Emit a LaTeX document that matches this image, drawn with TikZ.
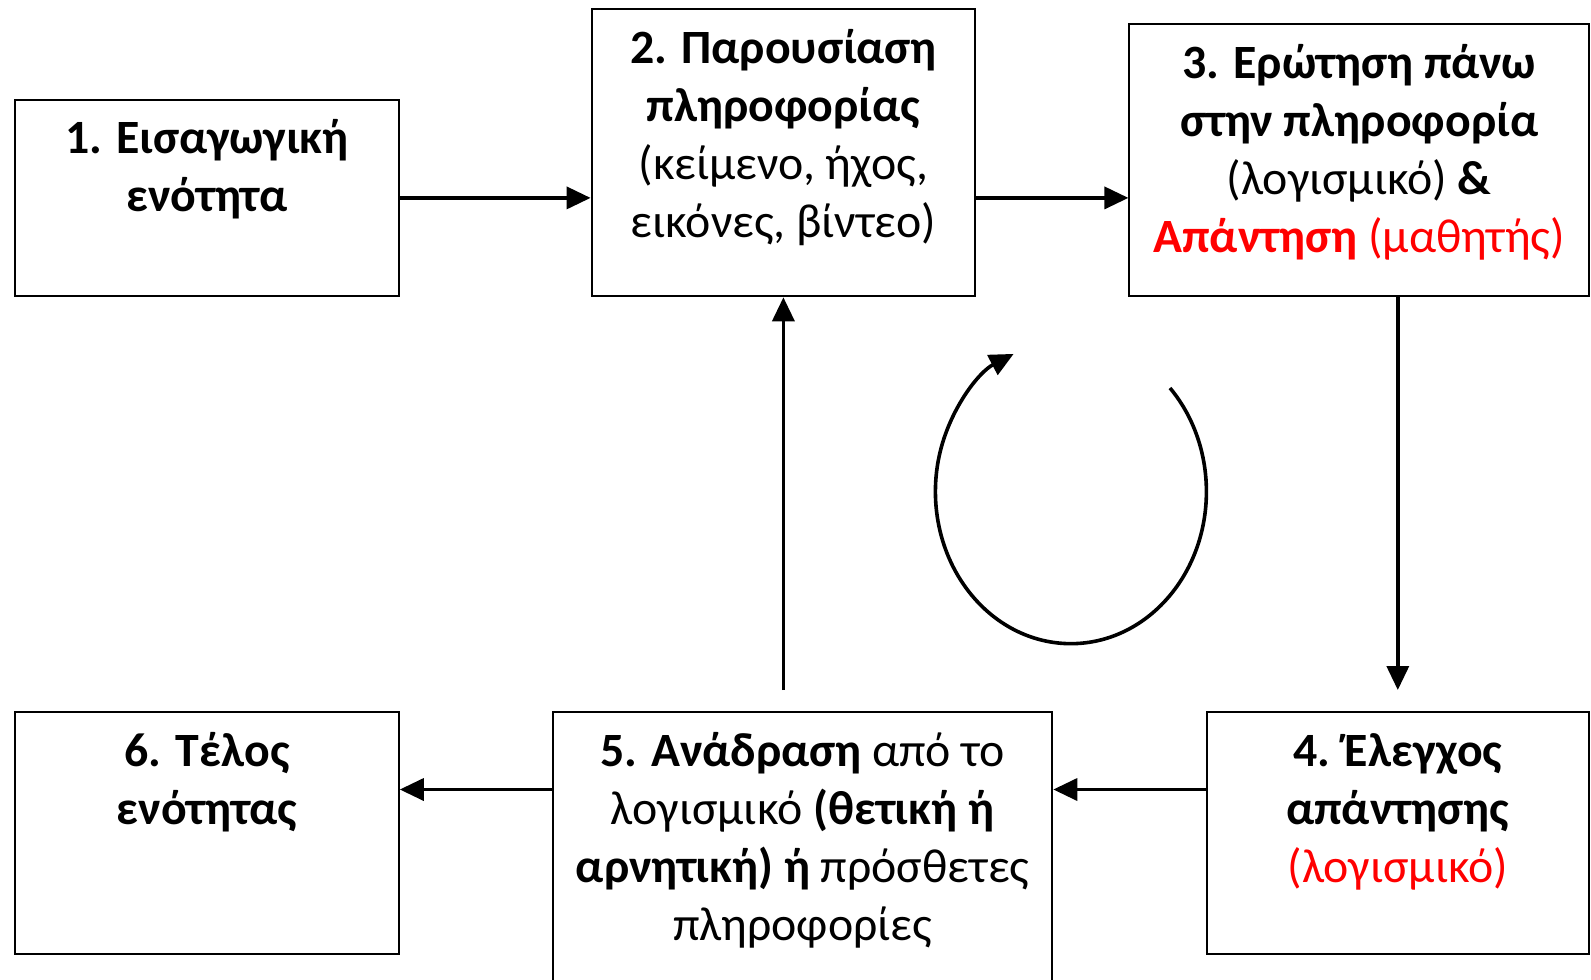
\documentclass[tikz,border=0pt]{standalone}
\usepackage{fontspec}
\setmainfont{Carlito}
\usetikzlibrary{arrows.meta}
\tikzset{
  stage/.style={draw, line width=1pt, inner sep=0pt, font=\fontsize{23.9}{29}\selectfont},
  flow/.style={line width=1.8pt, -{Triangle[length=12pt,width=11pt]}}
}
\newcommand{\stagetext}[3]{\parbox[t][#2][t]{#1}{\centering\vspace*{6.8pt}\strut#3\par}}
\begin{document}
\begin{tikzpicture}[x=0.5pt,y=-0.5pt]
 \useasboundingbox (0,0) rectangle (1591,980);
 \clip (0,0) rectangle (1591,980);
 % upper row
 \node[stage] (intro) at (207,197.9) {\stagetext{191.8pt}{98.4pt}{\textbf{1. Εισαγωγική}\\ \textbf{ενότητα}}};
 \node[stage] (present) at (783.4,152.7) {\stagetext{191.8pt}{143.6pt}{\textbf{2. Παρουσίαση}\\ \textbf{πληροφορίας}\\ (κείμενο, ήχος,\\ εικόνες, βίντεο)}};
 \node[stage] (question) at (1359.2,160.4) {\stagetext{229.8pt}{136pt}{\textbf{3. Ερώτηση πάνω}\\ \textbf{στην πληροφορία}\\ (λογισμικό) \textbf{\&}\\ \textcolor{red}{\textbf{Απάντηση} (μαθητής)}}};
 % lower row
 \node[stage] (check) at (1397.8,833) {\stagetext{191.3pt}{120.8pt}{\textbf{4. Έλεγχος}\\ \textbf{απάντησης}\\ \textcolor{red}{(λογισμικό)}}};
 \node[stage] (feedback) at (802.6,856) {\stagetext{249.7pt}{143.9pt}{\textbf{5. Ανάδραση} από το\\ λογισμικό \textbf{(θετική ή}\\ \textbf{αρνητική) ή} πρόσθετες\\ πληροφορίες}};
 \node[stage] (end) at (207,833) {\stagetext{191.8pt}{120.8pt}{\textbf{6. Τέλος}\\ \textbf{ενότητας}}};
 % arrows
 \coordinate (high) at (1000,197.9);
 \coordinate (low) at (1000,789.5);
 \coordinate (checktop) at (1397.8,690);
 \coordinate (fbtop) at (783.4,690);
 \draw[flow] (intro.east |- high) -- (present.west |- high);
 \draw[flow] (present.east |- high) -- (question.west |- high);
 \draw[flow] (question.south -| checktop) -- (checktop);
 \draw[flow] (check.west |- low) -- (feedback.east |- low);
 \draw[flow] (feedback.west |- low) -- (end.east |- low);
 \draw[flow] (fbtop) -- (present.south);
 % loop
 \draw[flow] (1170,388) arc[start angle=-43, end angle=245, x radius=135.5, y radius=152];
\end{tikzpicture}
\end{document}
